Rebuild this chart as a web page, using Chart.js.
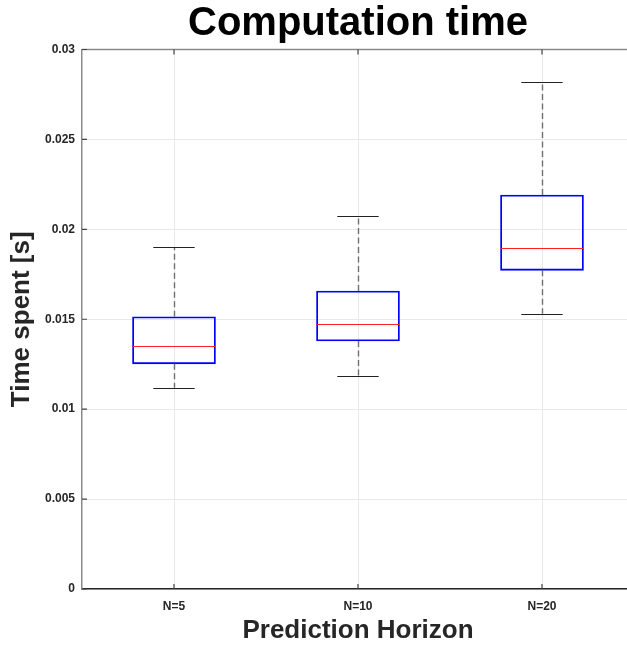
<!DOCTYPE html>
<html>
<head>
<meta charset="utf-8">
<script src="https://cdn.jsdelivr.net/npm/chart.js@4/dist/chart.umd.min.js"></script>
<style>
  html, body { margin: 0; padding: 0; background: #fff; overflow: hidden; }
  #wrap { width: 640px; height: 646px; }
</style>
</head>
<body>
<div id="wrap"><canvas id="boxChart" width="640" height="646"></canvas></div>
<script>
// Données
const categories = ['N=5', 'N=10', 'N=20'];
const lowerWhisker = [0.01119, 0.01186, 0.01531];
const q1 = [0.01252, 0.01379, 0.01772];
const median = [0.01353, 0.01475, 0.01894];
const q3 = [0.01514, 0.01657, 0.02191];
const upperWhisker = [0.01902, 0.02074, 0.02820];
const yTicks = [0, 0.005, 0.01, 0.015, 0.02, 0.025, 0.03];

const font = "'Liberation Sans', Arial, Helvetica, sans-serif";

// Moustaches, médianes, cadre et petits traits de graduation
const boxExtras = {
  id: 'boxExtras',
  afterDatasetsDraw(chart) {
    const { ctx, scales: { x, y }, chartArea: a } = chart;
    ctx.save();
    categories.forEach((c, i) => {
      const cx = Math.round(x.getPixelForValue(i + 1)) + 0.5;
      // moustaches en tirets
      ctx.strokeStyle = '#707070';
      ctx.lineWidth = 1.4;
      ctx.setLineDash([6, 3.5]);
      ctx.beginPath();
      ctx.moveTo(cx, y.getPixelForValue(q3[i]));
      ctx.lineTo(cx, y.getPixelForValue(upperWhisker[i]));
      ctx.moveTo(cx, y.getPixelForValue(q1[i]));
      ctx.lineTo(cx, y.getPixelForValue(lowerWhisker[i]));
      ctx.stroke();
      ctx.setLineDash([]);
      // extrémités
      const capL = x.getPixelForValue(i + 1 - 0.1125);
      const capR = x.getPixelForValue(i + 1 + 0.1125);
      ctx.strokeStyle = '#222';
      ctx.lineWidth = 1;
      ctx.beginPath();
      ctx.moveTo(capL, Math.round(y.getPixelForValue(upperWhisker[i])) + 0.5);
      ctx.lineTo(capR, Math.round(y.getPixelForValue(upperWhisker[i])) + 0.5);
      ctx.moveTo(capL, Math.round(y.getPixelForValue(lowerWhisker[i])) + 0.5);
      ctx.lineTo(capR, Math.round(y.getPixelForValue(lowerWhisker[i])) + 0.5);
      ctx.stroke();
      // médiane
      const bl = x.getPixelForValue(i + 1 - 0.225);
      const br = x.getPixelForValue(i + 1 + 0.225);
      ctx.strokeStyle = '#ff2020';
      ctx.lineWidth = 1;
      ctx.beginPath();
      ctx.moveTo(bl, Math.round(y.getPixelForValue(median[i])) + 0.5);
      ctx.lineTo(br, Math.round(y.getPixelForValue(median[i])) + 0.5);
      ctx.stroke();
    });
    // cadre du haut
    ctx.strokeStyle = '#8a8a8a';
    ctx.lineWidth = 1.5;
    ctx.beginPath();
    ctx.moveTo(a.left, a.top);
    ctx.lineTo(a.right, a.top);
    ctx.stroke();
    // graduations vers l'intérieur
    ctx.strokeStyle = '#444';
    ctx.lineWidth = 1.2;
    ctx.beginPath();
    yTicks.forEach(v => {
      const py = y.getPixelForValue(v);
      ctx.moveTo(a.left, py);
      ctx.lineTo(a.left + 5, py);
    });
    categories.forEach((c, i) => {
      const px = x.getPixelForValue(i + 1);
      ctx.moveTo(px, a.bottom);
      ctx.lineTo(px, a.bottom - 5);
      ctx.moveTo(px, a.top);
      ctx.lineTo(px, a.top + 5);
    });
    ctx.stroke();
    ctx.restore();
  }
};

const ctx = document.getElementById('boxChart').getContext('2d');
const boxChart = new Chart(ctx, {
  type: 'bar',
  data: {
    datasets: [{
      label: 'boîtes',
      data: categories.map((c, i) => ({ x: i + 1, y: [q1[i], q3[i]] })),
      backgroundColor: 'rgba(0,0,0,0)',
      borderColor: '#0000ff',
      borderWidth: 1.2,
      borderSkipped: false,
      barThickness: 83,
    }]
  },
  options: {
    responsive: false,
    animation: false,
    devicePixelRatio: 1,
    layout: { padding: { left: 0, right: 6, top: 0, bottom: 0 } },
    plugins: {
      legend: { display: false },
      tooltip: { enabled: false },
      title: {
        display: true,
        fullSize: false, // centré sur la zone du graphique
        text: 'Computation time',
        color: '#000',
        font: { family: font, size: 40, weight: 'bold', lineHeight: 1.1 },
        padding: { top: 2, bottom: 3.5 },
      },
    },
    scales: {
      x: {
        type: 'linear',
        min: 0.5,
        max: 3.5,
        offset: false,
        afterBuildTicks: s => { s.ticks = categories.map((c, i) => ({ value: i + 1 })); },
        afterFit: s => { s.height = 57; },
        ticks: {
          callback: v => categories[v - 1],
          color: '#262626',
          font: { family: font, size: 12, weight: 'bold' },
          padding: 10,
          maxRotation: 0,
        },
        grid: { color: '#e8e8e8', drawTicks: false, offset: false },
        border: { color: '#262626', width: 1.5 },
        title: {
          display: true,
          text: 'Prediction Horizon',
          color: '#262626',
          font: { family: font, size: 26, weight: 'bold', lineHeight: 1.2 },
          padding: { top: 0, bottom: 0 },
        },
      },
      y: {
        min: 0,
        max: 0.03,
        afterBuildTicks: s => { s.ticks = yTicks.map(v => ({ value: v })); },
        afterFit: s => { s.width = 82; },
        ticks: {
          callback: v => String(+v.toFixed(3)),
          color: '#262626',
          font: { family: font, size: 12, weight: 'bold' },
          padding: 7,
        },
        grid: { color: '#e8e8e8', drawTicks: false },
        border: { color: '#8a8a8a', width: 1.5 },
        title: {
          display: true,
          text: 'Time spent [s]',
          color: '#262626',
          font: { family: font, size: 26, weight: 'bold', lineHeight: 1.2 },
          padding: { top: 6, bottom: 0 },
        },
      },
    },
  },
  plugins: [boxExtras],
});
</script>
</body>
</html>
